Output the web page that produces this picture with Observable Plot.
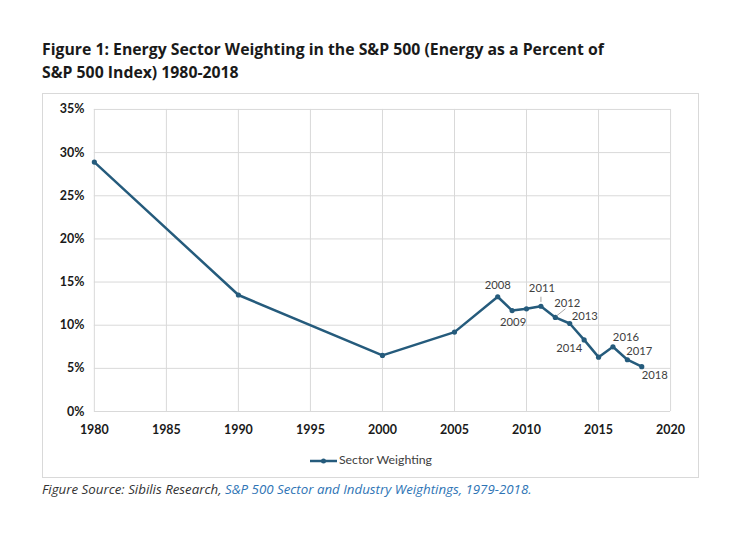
<!DOCTYPE html>
<html>
<head>
<meta charset="utf-8">
<script src="https://cdn.jsdelivr.net/npm/d3@7"></script>
<script src="https://cdn.jsdelivr.net/npm/@observablehq/plot@0.6"></script>
<style>
  html, body { margin: 0; padding: 0; background: #fff; }
  body { width: 746px; height: 534px; position: relative; overflow: hidden; font-family: Lato, "Open Sans", sans-serif; }
  #title { position: absolute; left: 42px; top: 38px; font-family: "Open Sans", sans-serif; font-size: 15.8px; font-weight: bold; color: #1a1a1a; line-height: 23px; }
  #frame { position: absolute; left: 42px; top: 93px; width: 657px; height: 385px; border: 1px solid #d9d9d9; box-sizing: border-box; }
  #chart { position: absolute; left: -1px; top: -1px; }
  #legend { position: absolute; left: 0; width: 100%; top: 358px; text-align: center; font-size: 12.3px; color: #404040; }
  #legend svg { vertical-align: middle; margin-right: 1px; }
  #caption { position: absolute; left: 42px; top: 480px; font-family: "Open Sans", sans-serif; font-size: 13.3px; font-style: italic; color: #333; }
  #caption span { color: #2e74b5; }
</style>
</head>
<body>
<div id="title">Figure 1: Energy Sector Weighting in the S&amp;P 500 (Energy as a Percent of<br>S&amp;P 500 Index) 1980-2018</div>
<div id="frame">
  <div id="chart"></div>
  <div id="legend"><svg width="29" height="10"><line x1="1" y1="5" x2="28" y2="5" stroke="#255b7c" stroke-width="2.5"/><circle cx="14.5" cy="5" r="2.5" fill="#255b7c"/></svg>Sector Weighting</div>
</div>
<div id="caption">Figure Source: Sibilis Research, <span>S&amp;P 500 Sector and Industry Weightings, 1979-2018.</span></div>
<script>
const years = [1980, 1990, 2000, 2005, 2008, 2009, 2010, 2011, 2012, 2013, 2014, 2015, 2016, 2017, 2018];
const weights = [28.9, 13.5, 6.5, 9.2, 13.3, 11.7, 11.9, 12.2, 10.9, 10.2, 8.3, 6.3, 7.5, 6.0, 5.2];
const xTicks = [1980, 1985, 1990, 1995, 2000, 2005, 2010, 2015, 2020];
const yTicks = [0, 5, 10, 15, 20, 25, 30, 35];
const labelYears = [2008, 2009, 2011, 2012, 2013, 2014, 2016, 2017, 2018];

const data = years.map((year, i) => ({year, value: weights[i]}));
const byYear = new Map(data.map(d => [d.year, d]));

// label placement (pixel offsets)
const labelOffsets = {
  2008: [0, -11, "middle"],
  2009: [1, 12, "middle"],
  2011: [1, -18, "middle"],
  2012: [12, -14, "middle"],
  2013: [15, -7, "middle"],
  2014: [-15, 9, "middle"],
  2016: [13, -9, "middle"],
  2017: [12, -8, "middle"],
  2018: [13, 9, "middle"]
};
const labels = labelYears.map(y => {
  const d = byYear.get(y);
  const [dx, dy, anchor] = labelOffsets[y];
  return {year: y, value: d.value, dx, dy, anchor};
});
const color = "#255b7c";

const chart = Plot.plot({
  width: 658,
  height: 356,
  marginLeft: 52,
  marginRight: 28,
  marginTop: 16,
  marginBottom: 37,
  style: {fontFamily: "Lato, 'Open Sans', sans-serif", background: "transparent", overflow: "visible"},
  x: {domain: [1980, 2020], ticks: xTicks, tickFormat: d => String(d), label: null},
  y: {domain: [0, 35], ticks: yTicks, tickFormat: d => d + "%", label: null},
  marks: [
    Plot.gridX(xTicks, {stroke: "#d9d9d9", strokeOpacity: 1, strokeWidth: 1}),
    Plot.gridY(yTicks, {stroke: "#d9d9d9", strokeOpacity: 1, strokeWidth: 1}),
    Plot.axisX({ticks: xTicks, tickFormat: d => String(d), tickSize: 0, tickPadding: 14, fontSize: 12.5, fontWeight: "bold", fill: "#1a1a1a", label: null}),
    Plot.axisY({ticks: yTicks, tickFormat: d => d + "%", tickSize: 0, tickPadding: 10, fontSize: 12.5, fontWeight: "bold", fill: "#1a1a1a", label: null}),
    Plot.line(data, {x: "year", y: "value", stroke: color, strokeWidth: 2.5}),
    Plot.dot(data, {x: "year", y: "value", fill: color, r: 2.6}),
    Plot.link([byYear.get(2011)], {x1: "year", y1: d => d.value + 0.5, x2: "year", y2: d => d.value + 1.1, stroke: "#a6a6a6", strokeWidth: 1}),
    Plot.link([byYear.get(2012)], {x1: d => d.year + 0.1, y1: d => d.value + 0.2, x2: d => d.year + 0.7, y2: d => d.value + 1.0, stroke: "#a6a6a6", strokeWidth: 1}),
    ...labels.map(l => Plot.text([l], {x: "year", y: "value", text: d => String(d.year), dx: l.dx, dy: l.dy, textAnchor: l.anchor, fontSize: 11.3, fill: "#404040"}))
  ]
});
document.getElementById("chart").appendChild(chart);
</script>
</body>
</html>
